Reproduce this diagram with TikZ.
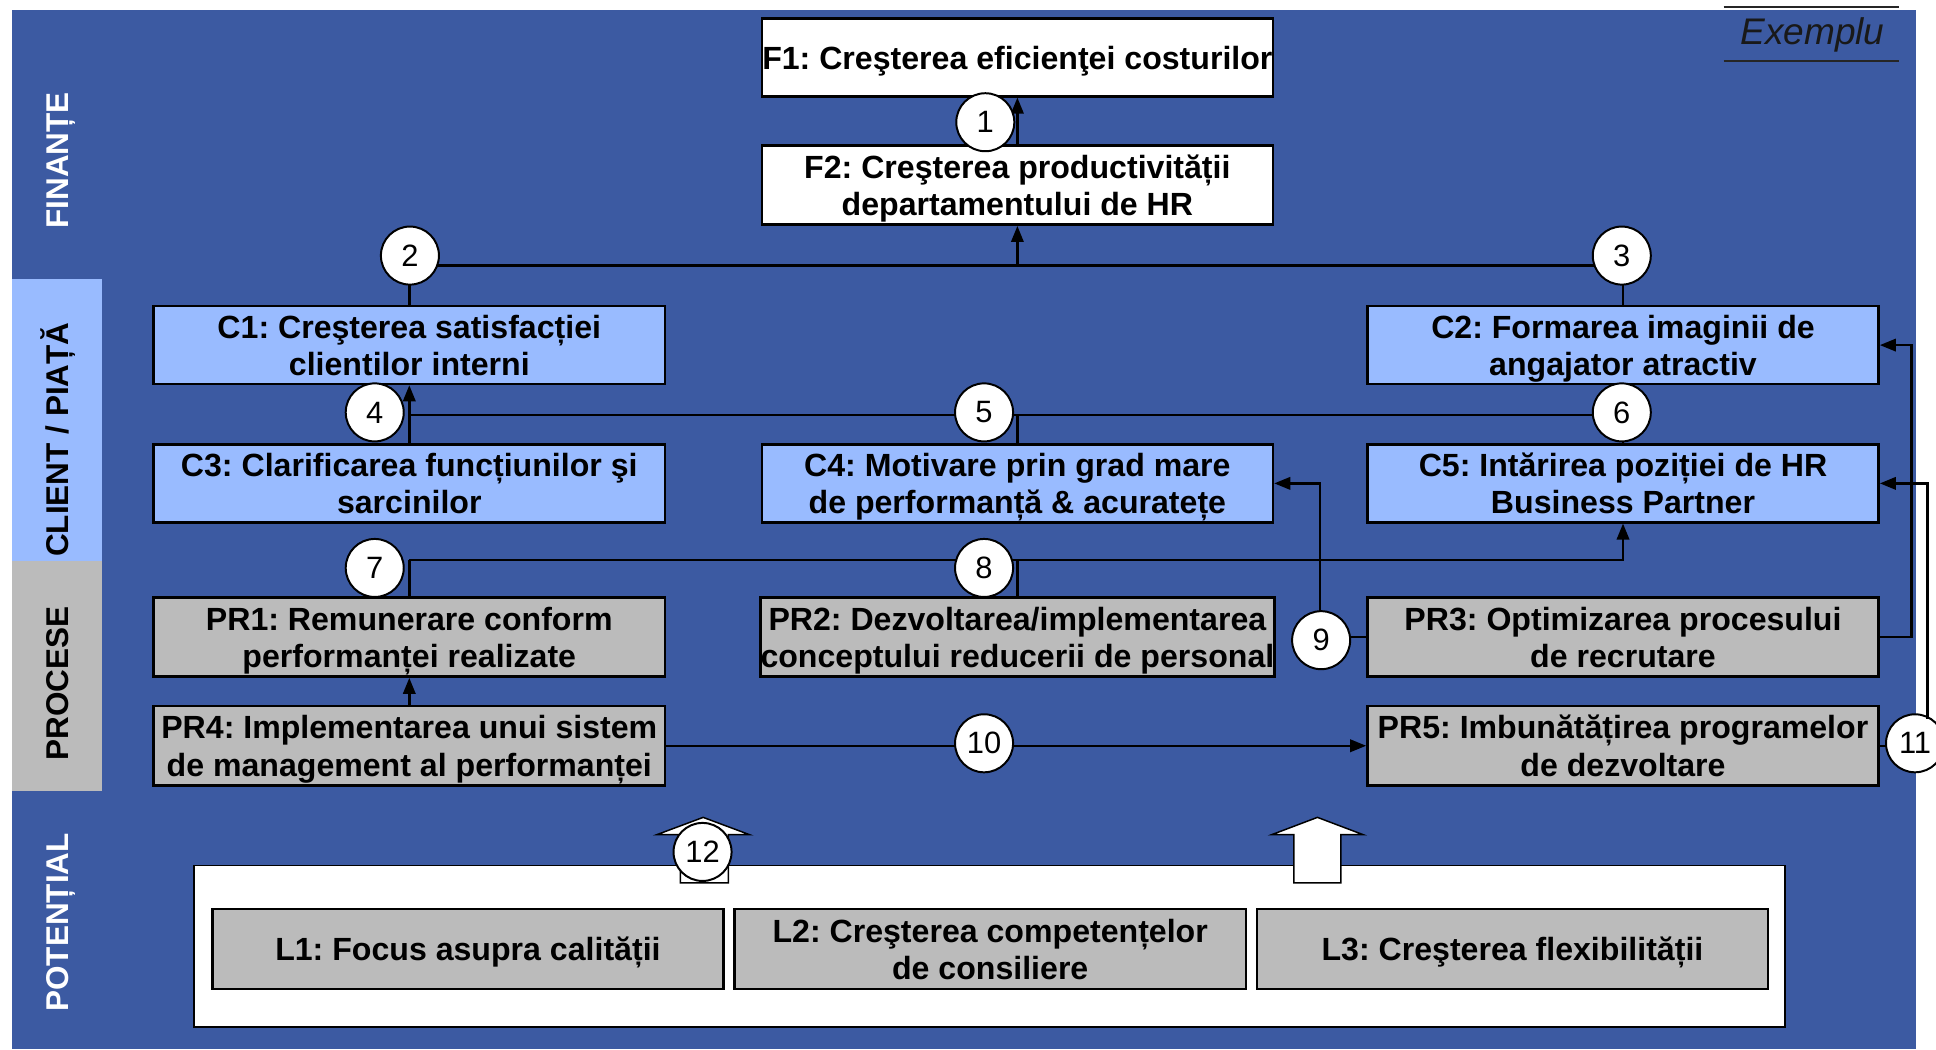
\documentclass[tikz,border=0pt]{standalone}
\usepackage{fontspec}
\setmainfont{Liberation Sans}
\usetikzlibrary{arrows.meta}
\definecolor{bsbg}{RGB}{60,90,162}
\definecolor{bslight}{RGB}{153,187,255}
\definecolor{bsgray}{RGB}{187,187,187}
% struts that give every goal box the same optical text centring
\newcommand{\strutTop}{\rule{0pt}{26pt}}
\newcommand{\strutBot}{\rule[-7pt]{0pt}{7pt}}
\newcommand{\oneline}[1]{\strutTop#1\strutBot}
\newcommand{\twoline}[2]{\strutTop#1\\#2\strutBot}
\frenchspacing

\begin{document}
\begin{tikzpicture}[x=1pt,y=-1pt,
  goal/.style={draw=black, line width=2pt, inner sep=0pt, align=center,
    font=\bfseries\fontsize{26}{30}\selectfont, minimum width=414pt},
  fin/.style={goal, fill=white, minimum height=63pt},
  cli/.style={goal, fill=bslight, minimum height=61pt},
  proc/.style={goal, fill=bsgray, minimum height=64pt},
  lev/.style={goal, fill=bsgray, minimum height=65pt},
  num/.style={circle, draw=black, fill=white, line width=1.6pt,
    minimum size=47pt, inner sep=0pt, font=\fontsize{25}{25}\selectfont},
  link/.style={line width=2pt, draw=black},
  arr/.style={link, -{Triangle[length=13pt,width=10pt]}},
  band/.style={rotate=90, anchor=base, inner sep=0pt,
    font=\bfseries\fontsize{25.5}{25.5}\selectfont},
  blockarrow/.style={draw=black, fill=white, line width=1.2pt, line join=miter},
]
\clip (0,0) rectangle (1568,850);
\useasboundingbox (0,0) rectangle (1568,850);
\fill[white] (0,0) rectangle (1568,850);

% perspective background and side bands
\fill[bsbg] (10,8) rectangle (1552,850);
\fill[bslight] (10,226) rectangle (82.5,454);
\fill[bsgray] (10,454) rectangle (82.5,640.5);

\node[band, text=white] (lf) at (55.5,130) {FINANȚE};
\node[band, text=black] (lc) at (55.5,356) {CLIENT / PIAȚĂ};
\node[band, text=black] (lp) at (55.5,553.5) {PROCESE};
\node[band, text=white] (ll) at (55.5,747) {POTENȚIAL};

% example tag
\node[font=\itshape\fontsize{30}{30}\selectfont, text=black!90] (ex) at (1468,28) {Exemplu};
\draw[line width=1.5pt, black!85] (1396,6) -- (1538,6);
\draw[line width=1.5pt, black!85] (1396,49.5) -- (1538,49.5);

% financial goals
\node[fin] (F1) at (824,46.5) {\oneline{F1: Creşterea eficienţei costurilor}};
\node[fin, minimum height=64pt] (F2) at (824,150) {\twoline{F2: Creşterea productivității}{departamentului de HR}};

% client goals
\node[cli] (C1) at (331.5,279.5) {\twoline{C1: Creşterea satisfacției}{clientilor interni}};
\node[cli] (C2) at (1314.5,279.5) {\twoline{C2: Formarea imaginii de}{angajator atractiv}};
\node[cli] (C3) at (331.5,391.5) {\twoline{C3: Clarificarea funcțiunilor şi}{sarcinilor}};
\node[cli] (C4) at (824,391.5) {\twoline{C4: Motivare prin grad mare}{de performanță \& acuratețe}};
\node[cli] (C5) at (1314.5,391.5) {\twoline{C5: Intărirea poziției de HR}{Business Partner}};

% process goals
\node[proc] (P1) at (331.5,516) {\twoline{PR1: Remunerare conform}{performanței realizate}};
\node[proc] (P2) at (824,516) {\twoline{PR2: Dezvoltarea/implementarea}{conceptului reducerii de personal}};
\node[proc] (P3) at (1314.5,516) {\twoline{PR3: Optimizarea procesului}{de recrutare}};
\node[proc] (P4) at (331.5,604) {\twoline{PR4: Implementarea unui sistem}{de management al performanței}};
\node[proc] (P5) at (1314.5,604) {\twoline{PR5: Imbunătățirea programelor}{de dezvoltare}};

% cause-effect links
\draw[arr] (F2.north) -- (F1.south);

\coordinate (j23) at (824,215);
\draw[link] (C1.north) -- (C1.north |- j23) -| (C2.north);
\draw[arr] (j23) -- (F2.south);

\coordinate (j456) at (331.5,336);
\draw[arr] (C3.north) -- (C1.south);
\draw[link] (j456) -| (C5.north);
\draw[link] (C4.north) -- (C4.north |- j456);

\coordinate (j78) at (331.5,453.5);
\draw[link] (P1.north) -- (j78);
\draw[arr] (j78) -| (C5.south);
\draw[link] (P2.north) -- (P2.north |- j78);

\draw[arr] (P4.north) -- (P1.south);
\draw[arr] (P4.east) -- (P5.west);

\node[num] (n9) at (1070,518.5) {9};
\coordinate (t9) at (1069,495.5);
\draw[link] (P3.west) -- (n9.east |- P3.west);
\draw[arr] (t9) |- (C4.east);

\draw[arr] (P3.east) -- ++(25.5,0) |- (C2.east);

\node[num] (n11) at (1551,602) {11};
\coordinate (t11) at (1561,582);
\draw[link] (P5.east) -- (n11.west |- P5.east);
\draw[arr] (t11) |- (C5.east);

% numbered markers on the links
\node[num] (n1) at (798,99) {1};
\node[num] (n2) at (332,207) {2};
\node[num] (n3) at (1313.5,207) {3};
\node[num] (n4) at (303.5,334) {4};
\node[num] (n5) at (797,334) {5};
\node[num] (n6) at (1313.5,334) {6};
\node[num] (n7) at (303.5,460) {7};
\node[num] (n8) at (797,460) {8};
\node[num] (n10) at (797,602) {10};

% potential (learning) goals
\node[draw=black, fill=white, line width=1.5pt, minimum width=1289pt,
  minimum height=131pt, inner sep=0pt] (pot) at (801.5,766.5) {};
\node[lev] (L1) at (379,768.5) {\oneline{L1: Focus asupra calității}};
\node[lev] (L2) at (802,768.5) {\twoline{L2: Creşterea competențelor}{de consiliere}};
\node[lev] (L3) at (1225,768.5) {\oneline{L3: Creşterea flexibilității}};

% block arrows from the potential layer
\draw[blockarrow] (551,715) -- (551,676) -- (532,676) -- (569.5,662)
  -- (607,676) -- (590,676) -- (590,715) -- cycle;
\draw[blockarrow] (1048,715) -- (1048,676) -- (1030,676) -- (1067,662)
  -- (1104,676) -- (1086,676) -- (1086,715) -- cycle;
\node[num] (n12) at (569,690) {12};
\end{tikzpicture}
\end{document}
